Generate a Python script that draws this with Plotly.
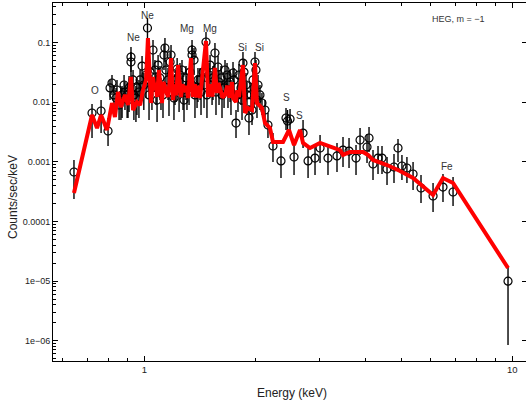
import math
import plotly.graph_objects as go

# Observed HEG (m = -1) spectrum: energy (keV), rate and 1-sigma bounds (counts/sec/keV)
energy = [0.644, 0.721, 0.763, 0.797, 0.807, 0.817, 0.838, 0.854, 0.870, 0.886,
          0.903, 0.920, 0.920, 0.937, 0.955, 0.974, 0.986, 1.020, 1.036, 1.056,
          1.076, 1.090, 1.110, 1.131, 1.138, 1.160, 1.175, 1.189, 1.212, 1.228,
          1.250, 1.274, 1.298, 1.323, 1.348, 1.348, 1.365, 1.391, 1.417, 1.444,
          1.471, 1.499, 1.528, 1.556, 1.586, 1.616, 1.647, 1.678, 1.710, 1.742,
          1.775, 1.797, 1.831, 1.854, 1.866, 1.889, 1.925, 1.950, 1.974, 1.999,
          2.011, 2.037, 2.088, 2.128, 2.168, 2.237, 2.352, 2.427, 2.450, 2.489,
          2.552, 2.700, 2.786, 2.910, 3.003, 3.156, 3.339, 3.467, 3.600, 3.761,
          3.857, 4.029, 4.080, 4.183, 4.316, 4.425, 4.566, 4.770, 4.891, 5.013,
          5.172, 5.374, 5.648, 6.090, 6.481, 6.902, 9.735,
          0.827, 0.843, 0.864, 0.881, 0.898, 0.909, 0.932, 0.949, 0.967, 0.997,
          1.011, 1.030, 1.049, 1.069, 1.083, 1.103, 1.124, 1.145, 1.167, 1.182,
          1.204, 1.220, 1.243, 1.266, 1.282, 1.306, 1.331, 1.373, 1.399, 1.426,
          1.453, 1.480, 1.509, 1.537, 1.566, 1.596, 1.626, 1.657, 1.688, 1.720,
          1.753, 1.808, 1.843, 1.901, 1.962, 1.987, 2.024, 2.062]
counts = [0.000677, 0.00661, 0.00715, 0.00330, 0.0174, 0.0211, 0.0118, 0.00901, 0.0133, 0.0149,
          0.0109, 0.0575, 0.0474, 0.0133, 0.0174, 0.0237, 0.0406, 0.1765, 0.0322, 0.0754,
          0.0195, 0.0422, 0.0161, 0.0622, 0.0815, 0.0237, 0.0474, 0.0310, 0.0195, 0.0362,
          0.0287, 0.0161, 0.0256, 0.0195, 0.0754, 0.0622, 0.0512, 0.0174, 0.0237, 0.0322,
          0.1027, 0.0287, 0.0195, 0.0672, 0.0391, 0.0256, 0.0174, 0.0287, 0.0219, 0.0310,
          0.00449, 0.0133, 0.0174, 0.0456, 0.0322, 0.0195, 0.00545, 0.0133, 0.0237, 0.0474,
          0.0348, 0.0195, 0.00973, 0.00743, 0.00416, 0.00185, 0.00104, 0.00545, 0.00486, 0.00525,
          0.00121, 0.00305, 0.00104, 0.00116, 0.00171, 0.00116, 0.00126, 0.00158, 0.00152, 0.00116,
          0.00233, 0.00178, 0.00252, 0.000922, 0.00116, 0.00116, 0.000760, 0.000821, 0.00171, 0.000854,
          0.000790, 0.000627, 0.000365, 0.000268, 0.000379, 0.000313, 0.0000100,
          0.0133, 0.0161, 0.0109, 0.0195, 0.0133, 0.0174, 0.0237, 0.0118, 0.0149, 0.0195,
          0.0287, 0.0133, 0.0174, 0.0348, 0.0109, 0.0256, 0.0133, 0.0348, 0.0149, 0.0622,
          0.0118, 0.0237, 0.0161, 0.0348, 0.0109, 0.0174, 0.0322, 0.0133, 0.0237, 0.0149,
          0.0195, 0.0133, 0.0422, 0.0256, 0.0149, 0.0219, 0.0133, 0.0348, 0.0195, 0.0149,
          0.0237, 0.0287, 0.0109, 0.0133, 0.00743, 0.0174, 0.0109, 0.0133]
counts_hi = [0.00108, 0.00936, 0.0109, 0.00545, 0.0237, 0.0287, 0.0174, 0.0133, 0.0188, 0.0219,
             0.0161, 0.0847, 0.0698, 0.0195, 0.0256, 0.0348, 0.0598, 0.2597, 0.0512, 0.1110,
             0.0322, 0.0622, 0.0256, 0.0951, 0.1199, 0.0376, 0.0698, 0.0474, 0.0298, 0.0553,
             0.0456, 0.0256, 0.0406, 0.0310, 0.1110, 0.0915, 0.0815, 0.0287, 0.0376, 0.0512,
             0.1511, 0.0456, 0.0310, 0.0988, 0.0598, 0.0406, 0.0276, 0.0456, 0.0348, 0.0474,
             0.00743, 0.0211, 0.0276, 0.0698, 0.0512, 0.0310, 0.00901, 0.0211, 0.0376, 0.0698,
             0.0512, 0.0287, 0.0143, 0.0109, 0.00661, 0.00305, 0.00171, 0.00802, 0.00743, 0.00772,
             0.00208, 0.00505, 0.00171, 0.00192, 0.00283, 0.00192, 0.00208, 0.00262, 0.00252, 0.00192,
             0.00370, 0.00294, 0.00385, 0.00158, 0.00185, 0.00185, 0.00121, 0.00136, 0.00242, 0.00131,
             0.00121, 0.000996, 0.000603, 0.000443, 0.000627, 0.000558, 0.0000179,
             0.0195, 0.0237, 0.0174, 0.0287, 0.0211, 0.0276, 0.0348, 0.0188, 0.0237, 0.0310,
             0.0439, 0.0219, 0.0276, 0.0512, 0.0188, 0.0406, 0.0219, 0.0512, 0.0237, 0.0915,
             0.0203, 0.0376, 0.0256, 0.0512, 0.0188, 0.0276, 0.0474, 0.0219, 0.0376, 0.0237,
             0.0310, 0.0219, 0.0622, 0.0406, 0.0237, 0.0348, 0.0219, 0.0512, 0.0310, 0.0237,
             0.0376, 0.0439, 0.0188, 0.0219, 0.0118, 0.0276, 0.0174, 0.0195]
counts_lo = [0.000239, 0.00252, 0.00305, 0.00185, 0.0109, 0.0133, 0.00688, 0.00505, 0.00545, 0.00743,
             0.00545, 0.0322, 0.0276, 0.00505, 0.00612, 0.00901, 0.0161, 0.1110, 0.0133, 0.0348,
             0.00901, 0.0195, 0.00743, 0.0348, 0.0474, 0.0109, 0.0237, 0.0149, 0.00901, 0.0174,
             0.0133, 0.00743, 0.0109, 0.00901, 0.0422, 0.0348, 0.0287, 0.00802, 0.0109, 0.0161,
             0.0622, 0.0133, 0.00901, 0.0376, 0.0195, 0.0118, 0.00802, 0.0133, 0.0101, 0.0149,
             0.00252, 0.00688, 0.00901, 0.0256, 0.0161, 0.0109, 0.00283, 0.00688, 0.0118, 0.0287,
             0.0195, 0.0109, 0.00612, 0.00467, 0.00252, 0.000996, 0.000537, 0.00343, 0.00305, 0.00317,
             0.000603, 0.00171, 0.000537, 0.000603, 0.000958, 0.000603, 0.000677, 0.000821, 0.000790, 0.000603,
             0.00131, 0.000958, 0.00147, 0.000497, 0.000627, 0.000627, 0.000410, 0.000443, 0.000996, 0.000497,
             0.000443, 0.000338, 0.000204, 0.000144, 0.000212, 0.000182, 0.00000085,
             0.00688, 0.00802, 0.00505, 0.00973, 0.00545, 0.00688, 0.0109, 0.00467, 0.00545, 0.00743,
             0.0118, 0.00505, 0.00743, 0.0149, 0.00467, 0.0109, 0.00545, 0.0161, 0.00589, 0.0322,
             0.00505, 0.0101, 0.00688, 0.0149, 0.00467, 0.00743, 0.0149, 0.00545, 0.0101, 0.00612,
             0.00802, 0.00545, 0.0195, 0.0109, 0.00612, 0.00901, 0.00545, 0.0161, 0.00802, 0.00612,
             0.0101, 0.0118, 0.00505, 0.00612, 0.00416, 0.00802, 0.00545, 0.00743]

# Folded best-fit model
model_energy = [0.644, 0.721, 0.744, 0.763, 0.792, 0.817, 0.832, 0.848, 0.864, 0.886,
                0.903, 0.920, 0.932, 0.955, 0.974, 0.992, 1.011, 1.023, 1.043, 1.056,
                1.068, 1.074, 1.083, 1.096, 1.117, 1.127, 1.138, 1.149, 1.160, 1.170,
                1.182, 1.197, 1.210, 1.222, 1.235, 1.258, 1.270, 1.290, 1.302, 1.315,
                1.339, 1.356, 1.372, 1.388, 1.402, 1.417, 1.471, 1.490, 1.510, 1.532,
                1.556, 1.576, 1.590, 1.606, 1.630, 1.657, 1.680, 1.705, 1.731, 1.742,
                1.775, 1.790, 1.808, 1.854, 1.878, 1.913, 1.962, 1.999, 2.024, 2.088,
                2.128, 2.195, 2.237, 2.382, 2.473, 2.552, 2.649, 2.700, 2.821, 3.003,
                3.196, 3.403, 3.467, 3.622, 3.929, 4.054, 4.183, 4.566, 4.953, 5.374,
                6.090, 6.481, 6.902, 9.735]
model_counts = [0.000301, 0.00612, 0.00370, 0.00612, 0.00343, 0.00973, 0.00567, 0.0149, 0.00834, 0.0133,
                0.00901, 0.0266, 0.00743, 0.0101, 0.00901, 0.0161, 0.0237, 0.1199, 0.00973, 0.0266,
                0.0160, 0.0210, 0.0123, 0.0348, 0.00973, 0.0220, 0.0181, 0.0150, 0.0123, 0.0200,
                0.0553, 0.0109, 0.0200, 0.0130, 0.0422, 0.0123, 0.0200, 0.0149, 0.0190, 0.0118,
                0.0553, 0.0123, 0.0200, 0.0120, 0.0190, 0.0118, 0.1067, 0.0123, 0.0200, 0.0125,
                0.0376, 0.0143, 0.0210, 0.0174, 0.0120, 0.0133, 0.0190, 0.0120, 0.0219, 0.0118,
                0.0101, 0.0160, 0.0123, 0.0422, 0.00661, 0.00802, 0.00743, 0.0456, 0.00973, 0.00802,
                0.00449, 0.00370, 0.00216, 0.00216, 0.00343, 0.00192, 0.00343, 0.00208, 0.00171, 0.00208,
                0.00178, 0.00158, 0.00131, 0.00147, 0.00147, 0.00131, 0.00108, 0.000887, 0.000704, 0.000537,
                0.000279, 0.000537, 0.000443, 0.0000166]

# Emission-line identifications (label text and where it sits)
line_names = ["O", "Ne", "Ne", "Mg", "Mg", "Si", "Si", "S", "S", "Fe"]
line_label_energy = [0.7345, 0.9335, 1.019, 1.304, 1.508, 1.846, 2.053, 2.438, 2.642, 6.632]
line_label_counts = [0.01608, 0.1213, 0.2915, 0.1744, 0.1744, 0.0824, 0.0824, 0.01194, 0.005957, 0.000831]

x_major = [1, 10]
x_major_text = ["1", "10"]
x_minor = [0.6, 0.7, 0.8, 0.9, 2, 3, 4, 5, 6, 7, 8, 9]
y_major = [0.1, 0.01, 0.001, 0.0001, 1e-05, 1e-06]
y_major_text = ["0.1", "0.01", "0.001", "0.0001", "1e\u221205", "1e\u221206"]
y_minor = [m * 10.0 ** e for e in range(-7, 0) for m in range(2, 10)]

FONT = "Liberation Sans, Arial, Helvetica, sans-serif"
x_range = [-0.2481, 1.0372]
y_range = [-6.34, -0.334]

fig = go.Figure()

fig.add_trace(go.Scatter(
    x=energy, y=counts, mode="markers",
    marker=dict(symbol="circle-open", size=8, color="black", line=dict(width=1.2)),
    error_y=dict(type="data", symmetric=False,
                 array=[h - v for h, v in zip(counts_hi, counts)],
                 arrayminus=[v - l for v, l in zip(counts, counts_lo)],
                 color="black", thickness=1.4, width=0),
    showlegend=False, hoverinfo="skip",
))

fig.add_trace(go.Scatter(
    x=model_energy, y=model_counts, mode="lines",
    line=dict(color="#ff0000", width=4),
    showlegend=False, hoverinfo="skip",
))

# right-hand frame ticks live on an overlaid axis
fig.add_trace(go.Scatter(x=[], y=[], yaxis="y2", showlegend=False, hoverinfo="skip"))

for name, e, c in zip(line_names, line_label_energy, line_label_counts):
    fig.add_annotation(x=math.log10(e), y=math.log10(c), xref="x", yref="y",
                       text=name, showarrow=False,
                       font=dict(family=FONT, size=10, color="#333333"))

fig.add_annotation(xref="paper", yref="paper", x=0.9175, y=0.955,
                   xanchor="right", yanchor="middle", text="HEG, m = \u22121",
                   showarrow=False, font=dict(family=FONT, size=9, color="#333333"))
fig.add_annotation(xref="paper", yref="paper", x=0.5047, y=-0.0902,
                   xanchor="center", yanchor="middle",
                   text="Energy (keV)", showarrow=False,
                   font=dict(family=FONT, size=12, color="#222222"))
fig.add_annotation(xref="paper", yref="paper", x=-0.0846, y=0.458,
                   xanchor="center", yanchor="middle",
                   text="Counts/sec/keV", textangle=-90, showarrow=False,
                   font=dict(family=FONT, size=12, color="#222222"))

fig.update_layout(
    width=526, height=406,
    margin=dict(l=53, r=0, t=3, b=45),
    paper_bgcolor="white", plot_bgcolor="white",
    font=dict(family=FONT, size=10, color="#222222"),
    xaxis=dict(
        type="log", range=x_range, showgrid=False, zeroline=False,
        showline=True, linecolor="black", linewidth=1, mirror="ticks",
        ticks="inside", ticklen=5, tickcolor="black", tickwidth=1,
        tickmode="array", tickvals=x_major, ticktext=x_major_text,
        tickfont=dict(family=FONT, size=9.5, color="#222222"),
        minor=dict(ticks="inside", ticklen=3, tickcolor="black", tickwidth=1,
                   tickmode="array", tickvals=x_minor, showgrid=False),
    ),
    yaxis=dict(
        type="log", range=y_range, showgrid=False, zeroline=False,
        showline=True, linecolor="black", linewidth=1, mirror=False,
        ticks="inside", ticklen=5, tickcolor="black", tickwidth=1,
        tickmode="array", tickvals=y_major, ticktext=y_major_text,
        tickfont=dict(family=FONT, size=9, color="#222222"),
        minor=dict(ticks="inside", ticklen=3, tickcolor="black", tickwidth=1,
                   tickmode="array", tickvals=y_minor, showgrid=False),
    ),
    yaxis2=dict(
        type="log", range=y_range, overlaying="y", side="right",
        showgrid=False, zeroline=False, showline=False,
        ticks="inside", ticklen=4, tickcolor="black", tickwidth=1,
        tickmode="array", tickvals=y_major, showticklabels=False,
    ),
)

fig.write_html("out.html")
